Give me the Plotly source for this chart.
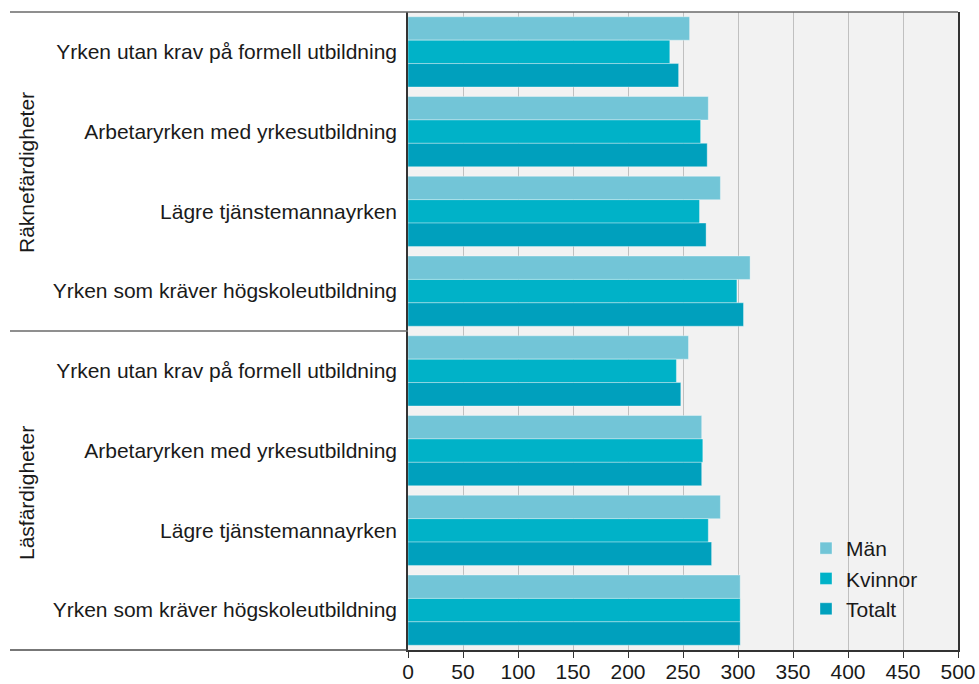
import plotly.graph_objects as go

# Skill areas and occupational groups (top to bottom)
groups = ["Räknefärdigheter", "Läsfärdigheter"]
occupations = [
    "Yrken utan krav på formell utbildning",
    "Arbetaryrken med yrkesutbildning",
    "Lägre tjänstemannayrken",
    "Yrken som kräver högskoleutbildning",
]

# Mean scores per series, ordered as groups x occupations
man = [256, 273, 284, 311, 255, 267, 284, 302]
kvinnor = [238, 266, 265, 299, 244, 268, 273, 302]
totalt = [246, 272, 271, 305, 248, 267, 276, 302]

series_names = ["Män", "Kvinnor", "Totalt"]
series_colors = ["#72c5d7", "#00b2c8", "#00a0bd"]

x_ticks = list(range(0, 501, 50))

# Unique category keys, displayed with the occupation name only
keys = [f"{g}|{o}" for g in groups for o in occupations]
labels = [o for g in groups for o in occupations]

FONT = "Liberation Sans, Arial, Helvetica, sans-serif"
FS = 21

fig = go.Figure()
for name, vals, col in zip(series_names, [man, kvinnor, totalt], series_colors):
    fig.add_trace(go.Bar(
        y=keys, x=vals, name=name, orientation="h",
        marker=dict(color=col, line=dict(color="rgba(255,255,255,0.35)", width=1)),
        legendgroup=name,
    ))

W, H = 979, 684
L, R, T, B = 408, 21, 12, 34
pw, ph = W - L - R, H - T - B


def px_x(p):
    return (p - L) / pw


def px_y(p):
    return (H - B - p) / ph


shapes = [
    # legend panel hides the grid lines behind it
    dict(type="rect", xref="paper", yref="paper", layer="between",
         x0=px_x(790), x1=px_x(957), y0=px_y(624), y1=px_y(532),
         fillcolor="#f2f2f2", line=dict(width=0)),
    # frame lines across the label area
    dict(type="line", xref="paper", yref="paper", x0=px_x(10), x1=1, y0=1, y1=1,
         line=dict(color="#6a6a6a", width=1.5)),
    dict(type="line", xref="paper", yref="paper", x0=px_x(10), x1=0, y0=0.5, y1=0.5,
         line=dict(color="#6a6a6a", width=1.5)),
    dict(type="line", xref="paper", yref="paper", x0=px_x(10), x1=0, y0=0, y1=0,
         line=dict(color="#4a4a4a", width=1.5)),
]

annotations = [
    dict(text=groups[0], xref="paper", yref="paper", x=px_x(26), y=px_y(173),
         textangle=-90, showarrow=False, xanchor="center", yanchor="middle",
         font=dict(size=FS, color="#1a1a1a", family=FONT)),
    dict(text=groups[1], xref="paper", yref="paper", x=px_x(26), y=px_y(493),
         textangle=-90, showarrow=False, xanchor="center", yanchor="middle",
         font=dict(size=FS, color="#1a1a1a", family=FONT)),
]

fig.update_layout(
    width=W, height=H,
    margin=dict(l=L, r=R, t=T, b=B, pad=0, autoexpand=False),
    paper_bgcolor="white", plot_bgcolor="#f2f2f2",
    barmode="group", bargap=0.12, bargroupgap=0,
    font=dict(family=FONT, size=FS, color="#1a1a1a"),
    showlegend=True,
    legend=dict(x=px_x(806), y=px_y(528), xanchor="left", yanchor="top",
                bgcolor="rgba(0,0,0,0)", font=dict(size=FS, family=FONT),
                tracegroupgap=0, traceorder="normal"),
    shapes=shapes, annotations=annotations,
    xaxis=dict(range=[0, 500], tickvals=x_ticks, ticktext=[str(v) for v in x_ticks],
               showgrid=True, gridcolor="#c0c0c0", gridwidth=1,
               showline=True, linecolor="#333333", linewidth=1.5,
               ticks="outside", ticklen=6, tickcolor="#333333",
               zeroline=False, fixedrange=True, automargin=False,
               ticklabelstandoff=-4,
               tickfont=dict(size=FS, family=FONT, color="#1a1a1a")),
    yaxis=dict(categoryorder="array", categoryarray=keys, autorange="reversed",
               tickvals=keys, ticktext=labels, automargin=False,
               showline=True, linecolor="#333333", linewidth=1.5, mirror=True,
               showgrid=False, ticks="", ticklabelstandoff=5,
               tickfont=dict(size=FS, family=FONT, color="#1a1a1a")),
)

fig.write_html("out.html")
